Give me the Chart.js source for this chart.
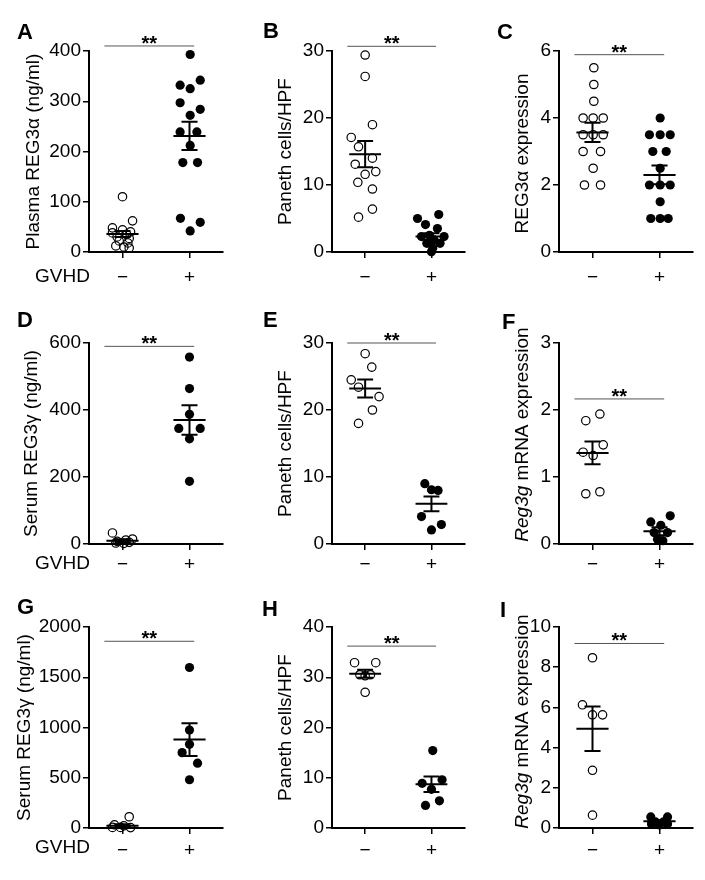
<!DOCTYPE html>
<html>
<head>
<meta charset="utf-8">
<script src="https://cdn.jsdelivr.net/npm/chart.js@4.4.0/dist/chart.umd.min.js"></script>
<style>
  body { margin: 0; background: #fff; width: 705px; height: 880px; position: relative; overflow: hidden;
         font-family: "Liberation Sans", Arial, sans-serif; color: #000; }
  canvas { position: absolute; }
  .letter { position: absolute; font-weight: bold; font-size: 22px; line-height: 22px; }
  .gvhd { position: absolute; font-size: 19px; line-height: 19px; }
</style>
</head>
<body>
<script>
// Group labels (GVHD − / +)
const groups = ['−', '+'];

// A: plasma REG3α
const aNeg = [110, 62, 48, 44, 40, 38, 35, 30, 27, 22, 18, 12, 10, 8];
const aNegDx = [0, 0.15, -0.15, 0, 0.12, -0.15, 0.06, -0.08, 0.1, -0.05, 0.08, -0.1, 0.02, 0.1];
const aPos = [393, 332, 342, 325, 297, 284, 272, 239, 239, 212, 178, 178, 67, 59, 42];
const aPosDx = [0.01, -0.14, 0.16, 0.01, -0.14, 0.16, 0.01, -0.14, 0.11, 0.01, -0.1, 0.12, -0.135, 0.16, 0.01];
const aMean = [36, 231];
const aSem = [6, 28];

// B: Paneth cells/HPF
const bNeg = [29.4, 26.2, 19, 17.1, 15.7, 14, 13.1, 12, 11.6, 10.4, 9.4, 6.4, 5.2];
const bNegDx = [0, 0, 0.11, -0.21, -0.1, 0.11, -0.15, 0.16, 0, -0.11, 0.11, 0.11, -0.1];
const bPos = [5.0, 5.6, 4.1, 3.5, 2.3, 2.5, 2.3, 1.8, 1.3, 1.3, 0.6, 0.05];
const bPosDx = [-0.21, 0.11, -0.09, 0.09, -0.15, -0.03, 0.19, 0.04, -0.07, 0.13, 0.02, 0];
const bMean = [14.6, 2.3];
const bSem = [1.95, 0.5];

// C: REG3α expression
const cNeg = [5.5, 5.0, 4.5, 4.0, 4.0, 4.0, 3.5, 3.5, 3.5, 3.0, 3.0, 2.5, 2.0, 2.0];
const cNegDx = [0.02, 0.02, 0.02, -0.14, 0.01, 0.16, -0.14, 0.01, 0.16, -0.14, 0.12, 0.01, -0.12, 0.12];
const cPos = [4.0, 3.5, 3.5, 3.5, 3.0, 3.0, 2.5, 2.0, 2.0, 2.0, 1.5, 1.0, 1.0, 1.0];
const cPosDx = [0.01, -0.15, 0.01, 0.16, -0.1, 0.1, 0.01, -0.15, 0.01, 0.16, 0.01, -0.13, 0.01, 0.13];
const cMean = [3.57, 2.3];
const cSem = [0.29, 0.28];

// D: serum REG3γ
const dNeg = [33, 15, 12, 8, 5, 3, 2];
const dNegDx = [-0.15, 0.15, 0.05, -0.08, 0.1, -0.1, 0.02];
const dPos = [558, 464, 387, 345, 345, 314, 187];
const dPosDx = [0, 0, 0, -0.16, 0.16, 0, 0];
const dMean = [10, 370];
const dSem = [4, 44];

// E: Paneth cells/HPF
const eNeg = [28.4, 26.4, 24.5, 23.4, 22.0, 20.0, 18.0];
const eNegDx = [0, 0.1, -0.21, -0.1, 0.21, 0.11, -0.1];
const ePos = [9.0, 8.1, 8.0, 4.1, 2.9, 2.1];
const ePosDx = [-0.1, 0, 0.1, -0.15, 0.15, 0];
const eMean = [23.2, 6.0];
const eSem = [1.35, 1.1];

// F: Reg3g mRNA expression
const fNeg = [1.94, 1.84, 1.48, 1.37, 1.32, 0.75, 0.78];
const fNegDx = [0.11, -0.1, 0.16, -0.14, 0.01, -0.1, 0.11];
const fPos = [0.42, 0.33, 0.28, 0.17, 0.17, 0.07, 0.05];
const fPosDx = [0.16, -0.13, 0.02, -0.08, 0.12, -0.03, 0.05];
const fMean = [1.36, 0.19];
const fSem = [0.17, 0.06];

// G: serum REG3γ
const gNeg = [112, 32, 22, 6, 4, 6];
const gNegDx = [0.1, -0.12, 0.02, -0.15, 0.12, -0.03];
const gPos = [1597, 975, 833, 750, 645, 480];
const gPosDx = [0, 0, 0, -0.11, 0.12, 0];
const gMean = [23, 880];
const gSem = [15, 163];

// H: Paneth cells/HPF
const hNeg = [32.9, 32.9, 30.5, 30.3, 30.5, 27.0];
const hNegDx = [-0.16, 0.16, -0.08, 0, 0.08, 0];
const hPos = [15.4, 8.9, 9.6, 7.7, 4.5, 5.4];
const hPosDx = [0.02, -0.14, 0.16, 0, -0.09, 0.12];
const hMean = [30.7, 8.7];
const hSem = [0.8, 1.55];

// I: Reg3g mRNA expression
const iNeg = [8.47, 6.13, 5.63, 5.63, 2.87, 0.64];
const iNegDx = [0, -0.15, 0, 0.15, 0, 0];
const iPos = [0.55, 0.55, 0.3, 0.3, 0.15, 0.2, 0.2];
const iPosDx = [-0.13, 0.12, -0.06, 0.06, 0, -0.12, 0.12];
const iMean = [4.94, 0.33];
const iSem = [1.11, 0.06];

// y axis ranges and significance bar heights
const yMax = [400, 30, 6, 600, 30, 3, 2000, 40, 10];
const yStep = [100, 10, 2, 200, 10, 1, 500, 10, 2];
const sigY = [410, 30.7, 5.89, 590, 30.0, 2.165, 1858, 36.2, 9.18];

const titles = [
  [['Plasma REG3α (ng/ml)', false]],
  [['Paneth cells/HPF', false]],
  [['REG3α expression', false]],
  [['Serum REG3γ (ng/ml)', false]],
  [['Paneth cells/HPF', false]],
  [['Reg3g', true], [' mRNA expression', false]],
  [['Serum REG3γ (ng/ml)', false]],
  [['Paneth cells/HPF', false]],
  [['Reg3g', true], [' mRNA expression', false]]
];
const letters = ['A', 'B', 'C', 'D', 'E', 'F', 'G', 'H', 'I'];

const series = [
  [aNeg, aNegDx, aPos, aPosDx, aMean, aSem],
  [bNeg, bNegDx, bPos, bPosDx, bMean, bSem],
  [cNeg, cNegDx, cPos, cPosDx, cMean, cSem],
  [dNeg, dNegDx, dPos, dPosDx, dMean, dSem],
  [eNeg, eNegDx, ePos, ePosDx, eMean, eSem],
  [fNeg, fNegDx, fPos, fPosDx, fMean, fSem],
  [gNeg, gNegDx, gPos, gPosDx, gMean, gSem],
  [hNeg, hNegDx, hPos, hPosDx, hMean, hSem],
  [iNeg, iNegDx, iPos, iPosDx, iMean, iSem]
];

// page layout (pixels)
const cellLeft = [0, 235, 470];
const cellTop = [0, 290, 580];
const cellH = [290, 290, 300];
const plotLeft = [89, 332, 559];
const plotTop = [51, 343, 627];
const plotW = 134, plotH = 201;
const titleGap = [55, 46, 36, 57, 46, 36, 64, 46, 36];
const titleShift = [0, 0, 2, 0, 0, -9, 0, 0, -6];
const letterPos = [[17, 21], [263, 20], [497, 21], [17, 309], [263, 309], [502, 311], [17, 596], [262, 598], [500, 599]];
const gvhdRowY = [276, 563, 847];
const xTickPad = [8, 3, 5];

const FONT = '"Liberation Sans", Arial, sans-serif';

// bar with ** and the rotated y title
const panelText = {
  id: 'panelText',
  afterDraw(chart, args, opts) {
    const { ctx, chartArea, scales } = chart;
    const by = scales.y.getPixelForValue(opts.sig);
    const x1 = scales.x.getPixelForValue(-0.27);
    const x2 = scales.x.getPixelForValue(1.07);
    ctx.save();
    ctx.strokeStyle = '#555';
    ctx.lineWidth = 1;
    ctx.beginPath();
    ctx.moveTo(x1, by);
    ctx.lineTo(x2, by);
    ctx.stroke();
    ctx.fillStyle = '#000';
    ctx.font = 'bold 20px ' + FONT;
    ctx.textAlign = 'center';
    ctx.textBaseline = 'alphabetic';
    ctx.fillText('**', (x1 + x2) / 2, by + 4);

    // y axis title
    ctx.translate(chartArea.left - opts.gap, (chartArea.top + chartArea.bottom) / 2 + opts.shift);
    ctx.rotate(-Math.PI / 2);
    ctx.textAlign = 'left';
    ctx.textBaseline = 'middle';
    const fonts = opts.title.map(p => (p[1] ? 'italic ' : '') + '19px ' + FONT);
    let total = 0;
    const widths = opts.title.map((p, k) => { ctx.font = fonts[k]; const w = ctx.measureText(p[0]).width; total += w; return w; });
    let x = -total / 2;
    opts.title.forEach((p, k) => { ctx.font = fonts[k]; ctx.fillText(p[0], x, 0); x += widths[k]; });
    ctx.restore();
  }
};

function errorBars(mean, sem) {
  const pts = [];
  mean.forEach((m, g) => {
    const s = sem[g];
    pts.push({ x: g - 0.24, y: m }, { x: g + 0.24, y: m }, { x: g, y: null });
    pts.push({ x: g - 0.12, y: m + s }, { x: g + 0.12, y: m + s }, { x: g, y: null });
    pts.push({ x: g - 0.12, y: m - s }, { x: g + 0.12, y: m - s }, { x: g, y: null });
    pts.push({ x: g, y: m - s }, { x: g, y: m + s }, { x: g, y: null });
  });
  return pts;
}

function makePanel(k) {
  const col = k % 3, row = Math.floor(k / 3);
  const cx = cellLeft[col], cy = cellTop[row], cw = 235, ch = cellH[row];
  const left = plotLeft[col], top = plotTop[row];
  const [neg, negDx, pos, posDx, mean, sem] = series[k];

  const canvas = document.createElement('canvas');
  canvas.width = cw;
  canvas.height = ch;
  canvas.style.left = cx + 'px';
  canvas.style.top = cy + 'px';
  document.body.appendChild(canvas);

  const letter = document.createElement('div');
  letter.className = 'letter';
  letter.textContent = letters[k];
  letter.style.left = letterPos[k][0] + 'px';
  letter.style.top = letterPos[k][1] + 'px';
  document.body.appendChild(letter);

  if (col === 0) {
    const g = document.createElement('div');
    g.className = 'gvhd';
    g.textContent = 'GVHD';
    g.style.left = '35px';
    g.style.top = (gvhdRowY[row] - 10) + 'px';
    document.body.appendChild(g);
  }

  new Chart(canvas, {
    type: 'scatter',
    data: {
      datasets: [
        {
          data: errorBars(mean, sem),
          showLine: true,
          borderColor: '#000',
          borderWidth: 2,
          pointRadius: 0,
          spanGaps: false,
          clip: false
        },
        {
          data: neg.map((v, i) => ({ x: 0 + negDx[i], y: v })),
          pointRadius: 4.2,
          pointBorderWidth: 1.2,
          pointBorderColor: '#000',
          pointBackgroundColor: 'rgba(255,255,255,0)',
          clip: false
        },
        {
          data: pos.map((v, i) => ({ x: 1 + posDx[i], y: v })),
          pointRadius: 4.6,
          pointBorderWidth: 0,
          pointBackgroundColor: '#000',
          pointBorderColor: '#000',
          clip: false
        }
      ]
    },
    options: {
      responsive: false,
      animation: false,
      events: [],
      layout: { padding: { left: 0, top: top - cy, right: cx + cw - (left + plotW), bottom: 0 } },
      plugins: {
        legend: { display: false },
        tooltip: { enabled: false },
        panelText: { sig: sigY[k], gap: titleGap[k], shift: titleShift[k], title: titles[k] }
      },
      scales: {
        x: {
          type: 'linear',
          min: -0.5,
          max: 1.5,
          afterBuildTicks: s => { s.ticks = groups.map((g, i) => ({ value: i })); },
          afterFit: s => { s.height = cy + ch - (top + plotH); },
          ticks: {
            callback: v => groups[v],
            color: '#000',
            font: { family: FONT, size: 19 },
            padding: xTickPad[row],
            maxRotation: 0
          },
          grid: { drawOnChartArea: false, drawTicks: true, tickLength: 6, color: '#000', lineWidth: 1.5 },
          border: { display: true, color: '#000', width: 2 }
        },
        y: {
          min: 0,
          max: yMax[k],
          afterFit: s => { s.width = left - cx; },
          ticks: {
            stepSize: yStep[k],
            callback: v => String(v),
            color: '#000',
            font: { family: FONT, size: 19 },
            padding: 2
          },
          grid: { drawOnChartArea: false, drawTicks: true, tickLength: 6, color: '#000', lineWidth: 1.5 },
          border: { display: true, color: '#000', width: 2 }
        }
      }
    },
    plugins: [panelText]
  });
}

for (let k = 0; k < 9; k++) makePanel(k);
</script>
</body>
</html>
